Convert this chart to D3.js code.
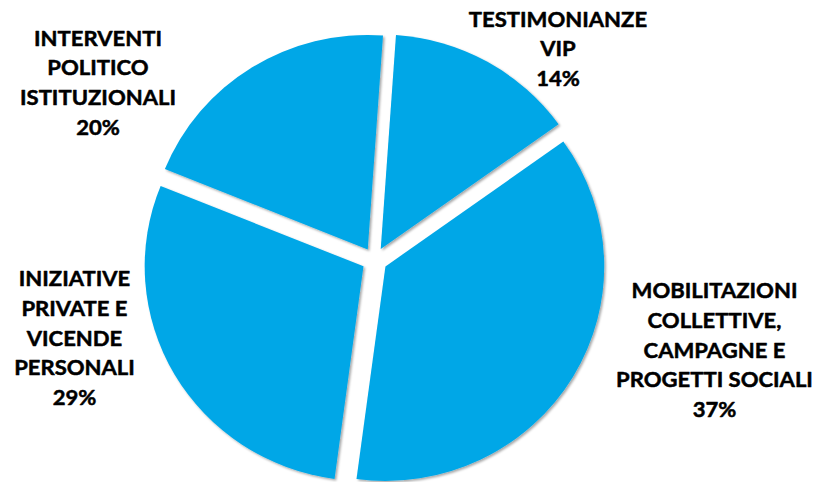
<!DOCTYPE html>
<html>
<head>
<meta charset="utf-8">
<script src="https://cdn.jsdelivr.net/npm/d3@7"></script>
<style>
  html, body { margin: 0; padding: 0; background: #ffffff; }
  svg { display: block; }
</style>
</head>
<body>
<svg id="chart" width="819" height="482"></svg>
<script>
// ---- data ----
const categories = [
  "TESTIMONIANZE VIP",
  "MOBILITAZIONI COLLETTIVE, CAMPAGNE E PROGETTI SOCIALI",
  "INIZIATIVE PRIVATE E VICENDE PERSONALI",
  "INTERVENTI POLITICO ISTITUZIONALI"
];
const labelLines = [
  ["TESTIMONIANZE", "VIP"],
  ["MOBILITAZIONI", "COLLETTIVE,", "CAMPAGNE E", "PROGETTI SOCIALI"],
  ["INIZIATIVE", "PRIVATE E", "VICENDE", "PERSONALI"],
  ["INTERVENTI", "POLITICO", "ISTITUZIONALI"]
];
const values = [14, 37, 29, 20];

// ---- layout ----
const W = 819, H = 482;
const center = { x: 374.5, y: 260 };
const R = 214.5;
const xStretch = 1.02;
const explode = 12.5;
const startDeg = 4;
const sliceColor = "#00A7E7";
const fontSize = 21.5;
const lineGap = 29.6;
// label block anchors: centre x, cap-top of first line
const labelLayout = [
  { cx: 558, top: 11.5 },
  { cx: 714.5, top: 283 },
  { cx: 74.5, top: 271 },
  { cx: 98, top: 30.5 }
];

const svg = d3.select("#chart");
const defs = svg.append("defs");
const f = defs.append("filter").attr("id", "shadow")
  .attr("x", "-10%").attr("y", "-10%").attr("width", "120%").attr("height", "120%");
f.append("feDropShadow").attr("dx", 1.6).attr("dy", 1.6)
  .attr("stdDeviation", 1.3).attr("flood-color", "#000").attr("flood-opacity", 0.35);

const rad = d => d * Math.PI / 180;
const pie = d3.pie().sort(null).value(d => d)
  .startAngle(rad(startDeg)).endAngle(rad(startDeg + 360));
const arcs = pie(values);
const arc = d3.arc().innerRadius(0).outerRadius(R);

const g = svg.append("g")
  .attr("transform", `translate(${center.x},${center.y}) scale(${xStretch},1)`);

g.selectAll("path.slice")
  .data(arcs)
  .join("path")
  .attr("class", "slice")
  .attr("d", arc)
  .attr("fill", sliceColor)
  .attr("filter", "url(#shadow)")
  .attr("transform", d => {
    const a = (d.startAngle + d.endAngle) / 2;
    return `translate(${explode * Math.sin(a)},${-explode * Math.cos(a)})`;
  });

// ---- labels ----
const capH = fontSize * 0.7165;
const labels = svg.append("g")
  .attr("font-family", "Lato, 'Open Sans', sans-serif")
  .attr("font-weight", 700)
  .attr("font-size", fontSize)
  .attr("fill", "#000")
  .attr("stroke", "#000")
  .attr("stroke-width", 0.5)
  .attr("stroke-linejoin", "round");

// measure scaling needed to approximate Calibri Bold width
const probe = labels.append("text").text("PROGETTI SOCIALI");
const probeW = probe.node().getComputedTextLength();
probe.remove();
const kx = 197 / probeW;

arcs.forEach((d, i) => {
  const lay = labelLayout[i];
  const lines = labelLines[i].concat([`${values[i]}%`]);
  const t = labels.append("text")
    .attr("text-anchor", "middle")
    .attr("transform", `translate(${lay.cx},0) scale(${kx},1)`);
  lines.forEach((ln, j) => {
    t.append("tspan")
      .attr("x", 0)
      .attr("y", lay.top + capH + j * lineGap)
      .text(ln);
  });
});
</script>
</body>
</html>
